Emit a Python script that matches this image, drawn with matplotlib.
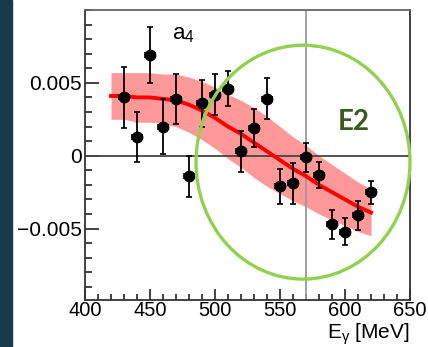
import numpy as np
import matplotlib.pyplot as plt
from matplotlib.patches import Ellipse, Rectangle
from matplotlib.ticker import MultipleLocator

plt.rcParams['font.family'] = ['Liberation Sans', 'DejaVu Sans']
plt.rcParams['mathtext.fontset'] = 'custom'
plt.rcParams['mathtext.rm'] = 'Liberation Sans'
plt.rcParams['mathtext.it'] = 'Liberation Sans'

# measured points
energy = [430, 440, 450, 460, 470, 480, 490, 500, 510, 520,
          530, 540, 550, 560, 570, 580, 590, 600, 610, 620]
a4 = [0.0040, 0.0013, 0.0069, 0.0020, 0.0039, -0.0014, 0.0036, 0.0042, 0.0046, 0.0003,
      0.0019, 0.0039, -0.0021, -0.0019, -0.0001, -0.0013, -0.0047, -0.0052, -0.0041, -0.0025]
a4_err = [0.0021, 0.0017, 0.0019, 0.0019, 0.0017, 0.0014, 0.0016, 0.0014, 0.0012, 0.0014,
          0.0013, 0.0014, 0.0012, 0.0014, 0.0010, 0.0009, 0.0010, 0.0009, 0.0010, 0.0008]
e_err = 4

# fit curve and its band
fit_e = [420, 430, 440, 450, 460, 470, 480, 490, 500, 510, 520,
         530, 540, 550, 560, 570, 580, 590, 600, 610, 620]
fit_a4 = [0.0041, 0.0041, 0.0040, 0.0040, 0.0039, 0.0038, 0.0035, 0.0031, 0.0026, 0.0020, 0.0015,
          0.0009, 0.0003, -0.0003, -0.0009, -0.0014, -0.0020, -0.0025, -0.0030, -0.0035, -0.0039]
band_half = [0.0016, 0.0016, 0.0017, 0.0017, 0.0017, 0.0018, 0.0019, 0.0020, 0.0021, 0.0022, 0.0023,
             0.0024, 0.0024, 0.0023, 0.0022, 0.0021, 0.0020, 0.0019, 0.0018, 0.0017, 0.0016]

fig = plt.figure(figsize=(4.28, 3.47), dpi=100)
fig.patches.append(Rectangle((0, 0), 12 / 428, 1, transform=fig.transFigure,
                             color='#183a48', zorder=0))
ax = fig.add_axes([85 / 428, 1 - 300 / 347, 325 / 428, 290 / 347])

fit_a4 = np.array(fit_a4)
band_half = np.array(band_half)
ax.fill_between(fit_e, fit_a4 - band_half, fit_a4 + band_half,
                color='#ff9999', lw=0, zorder=1)
ax.axhline(0, color='#444444', lw=1.3, zorder=2)
ax.axvline(570, color='#9a9a9a', lw=1.3, zorder=2)
ax.plot(fit_e, fit_a4, color='#ff0000', lw=2.8, zorder=3)
ax.errorbar(energy, a4, yerr=a4_err, xerr=e_err, fmt='o', color='black',
            ms=7.5, elinewidth=1.3, capsize=2.5, capthick=1.2, zorder=4)

ax.add_patch(Ellipse((567.7, -0.00044), 164.6, 0.01605, fill=False,
                     edgecolor='#92d050', lw=2.4, clip_on=False, zorder=5))
ax.text(607, 0.0023, 'E2', color='#3b5a1f', fontsize=20, fontweight='bold',
        family=['Lato', 'DejaVu Sans'], ha='center', va='center', zorder=6)
ax.text(467, 0.0080, r'$\mathregular{a_4}$', fontsize=16, ha='left', va='baseline')

ax.set_xlim(400, 650)
ax.set_ylim(-0.0099, 0.0100)
ax.xaxis.set_major_locator(MultipleLocator(50))
ax.xaxis.set_minor_locator(MultipleLocator(10))
ax.yaxis.set_major_locator(MultipleLocator(0.005))
ax.yaxis.set_minor_locator(MultipleLocator(0.001))
ax.set_yticks([-0.005, 0, 0.005])
ax.set_yticklabels(['\u22120.005', '0', '0.005'])
ax.tick_params(which='both', direction='in', top=False, right=False,
               labelsize=15, width=1.2, color='#222222')
ax.tick_params(axis='y', which='major', length=10, pad=2)
ax.tick_params(axis='y', which='minor', length=5)
ax.tick_params(axis='x', which='major', length=8, pad=1, labelsize=14.5)
ax.tick_params(axis='x', which='minor', length=4)
for s in ax.spines.values():
    s.set_linewidth(1.3)
    s.set_color('#333333')
ax.spines['top'].set_color('#666666')

fig.text(410 / 428, 1 - 339 / 347, r'E$_\gamma$ [MeV]', fontsize=15,
         ha='right', va='baseline')

fig.savefig('out.png', dpi=100)
